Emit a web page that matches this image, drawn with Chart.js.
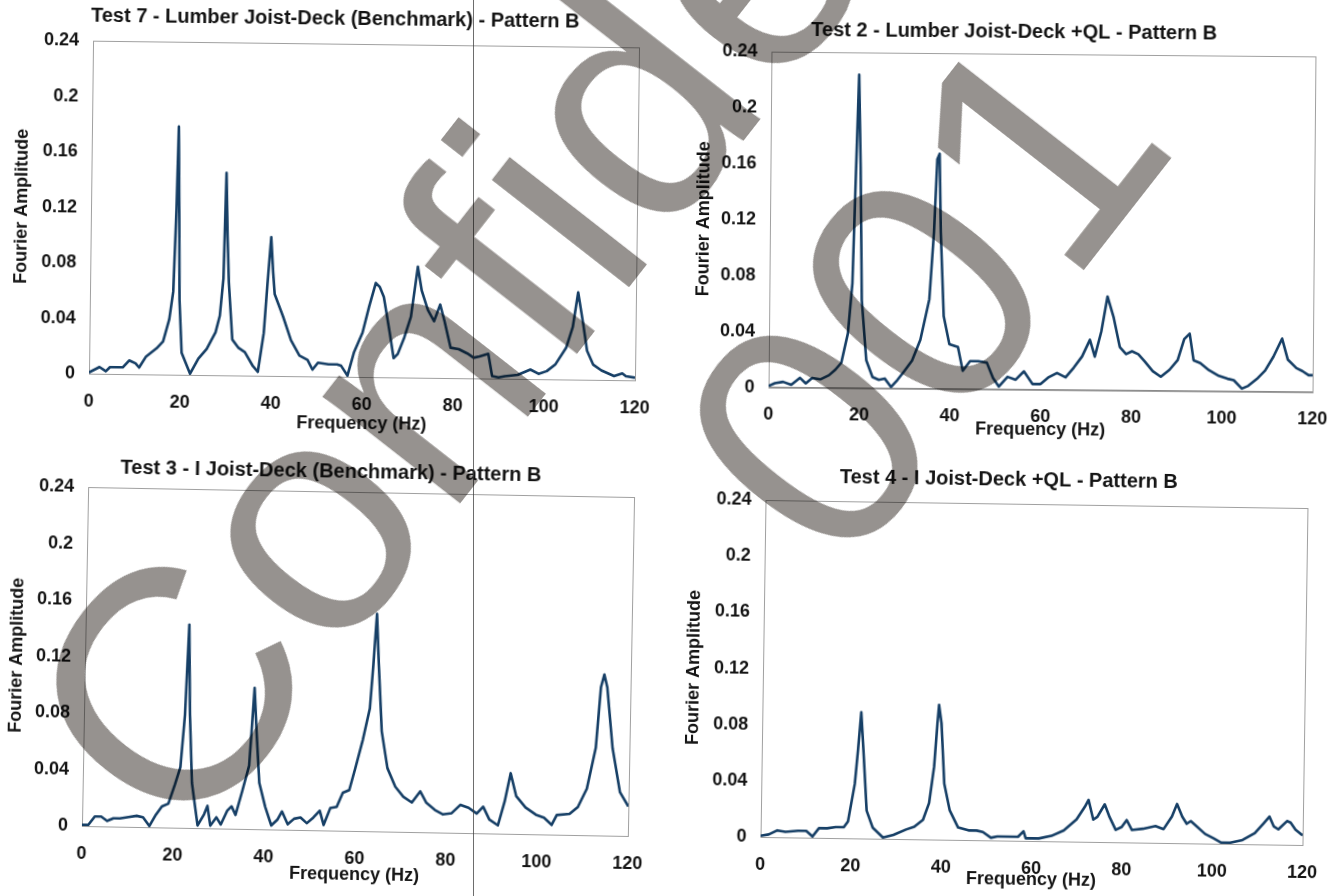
<!DOCTYPE html>
<html lang="en">
<head>
<meta charset="utf-8">
<title>Fourier Amplitude - Pattern B</title>
<script src="https://cdn.jsdelivr.net/npm/chart.js@4.4.1/dist/chart.umd.min.js"></script>
<style>
    html, body { margin: 0; padding: 0; background: #fff; overflow: hidden; }
    body { width: 1337px; height: 896px; position: relative; }
    .chart-box { position: absolute; }
    .chart-box canvas { display: block; }
    .fold-line { position: absolute; left: 473px; top: 0; width: 1px; height: 896px; background: rgba(60, 60, 60, 0.75); }
    .watermark {
        position: absolute;
        font: 330px/1 'Liberation Sans', Arial, sans-serif;
        color: #96928f; white-space: pre;
        mix-blend-mode: multiply; pointer-events: none;
    }
    .wm-line1 { left: 633px; top: 97px; transform: translate(-50%, -50%) rotate(-52deg); }
    .wm-line2 { left: 922px; top: 292px; transform: translate(-50%, -50%) rotate(-52deg); }
</style>
</head>
<body>
<div class="chart-box" id="box7"><canvas id="chart7"></canvas></div>
<div class="chart-box" id="box2"><canvas id="chart2"></canvas></div>
<div class="chart-box" id="box3"><canvas id="chart3"></canvas></div>
<div class="chart-box" id="box4"><canvas id="chart4"></canvas></div>
<div class="fold-line"></div>
<div class="watermark wm-line1">Confidential</div>
<div class="watermark wm-line2">001</div>

<script>
// 축 눈금 라벨
const xTickLabels = ['0', '20', '40', '60', '80', '100', '120'];
const yTickLabels = ['0', '0.04', '0.08', '0.12', '0.16', '0.2', '0.24'];

const chartTitles = [
    'Test 7 - Lumber Joist-Deck (Benchmark) - Pattern B',
    'Test 2 - Lumber Joist-Deck +QL - Pattern B',
    'Test 3 - I Joist-Deck (Benchmark) - Pattern B',
    'Test 4 - I Joist-Deck +QL - Pattern B'
];

// Test 7 - 주파수(Hz) / 푸리에 진폭
const test7Freq = [0, 2.3, 3.7, 4.6, 7.4, 8.8, 10.2, 11, 12.5, 14.8, 16.2, 17.5, 18.3, 18.8, 19.1, 19.4, 19.7, 20.3, 22.2, 24,
    25.8, 27.7, 28.6, 29.3, 29.7, 30.1, 30.5, 31.4, 32.8, 34.2, 36, 37.1, 38.3, 39, 39.7, 40.2, 40.6, 42.5, 44.3, 46.2,
    48, 49.1, 50.3, 52.6, 54.5, 55.4, 56.8, 58.2, 60, 61.4, 62.8, 63.7, 64.6, 66, 66.9, 67.8, 69.2, 70.6, 72, 72.9,
    74.3, 75.7, 77, 78, 79.4, 81.2, 83.1, 84.5, 85.8, 87.7, 88.6, 90, 91.4, 94.2, 97, 98.8, 100.6, 102.5, 104.8, 106.2,
    107.3, 108.5, 109.4, 110.8, 112.6, 115.4, 117.2, 118, 120];
const test7Amp = [0.001, 0.005, 0.002, 0.005, 0.005, 0.01, 0.008, 0.005, 0.013, 0.019, 0.024, 0.04, 0.06, 0.12, 0.179, 0.12, 0.054, 0.016, 0.001, 0.012,
    0.019, 0.031, 0.043, 0.07, 0.146, 0.1, 0.067, 0.026, 0.02, 0.017, 0.007, 0.003, 0.031, 0.067, 0.1, 0.075, 0.059, 0.043, 0.026, 0.015,
    0.012, 0.005, 0.01, 0.009, 0.009, 0.008, 0.001, 0.018, 0.032, 0.051, 0.068, 0.065, 0.058, 0.032, 0.014, 0.017, 0.029, 0.044, 0.08, 0.063,
    0.049, 0.041, 0.053, 0.041, 0.022, 0.021, 0.018, 0.015, 0.016, 0.018, 0.002, 0.001, 0.002, 0.003, 0.007, 0.004, 0.006, 0.011, 0.023, 0.038,
    0.063, 0.04, 0.021, 0.011, 0.007, 0.003, 0.005, 0.003, 0.002];

// Test 2
const test2Freq = [0, 1.4, 3.2, 5, 6.9, 8.2, 9.6, 11.4, 13.3, 14.7, 16, 17.4, 18.3, 18.9, 19.4, 19.9, 20.4, 21.5, 22.9, 24.3,
    25.6, 27, 28.4, 29.8, 31.6, 33.4, 35.3, 36.2, 36.8, 37.3, 37.7, 38.5, 39.8, 41.7, 42.8, 44.4, 46.2, 48.1, 49.5, 50.8,
    52.7, 54.5, 56.3, 58.2, 60, 61.8, 63.6, 65.5, 67.3, 69.1, 70.8, 71.9, 73.3, 74.6, 76, 77.4, 78.8, 80.1, 81.5, 82.9,
    84.7, 86.5, 88.4, 90.2, 91.6, 92.8, 93.7, 95.2, 97.1, 99.3, 101.2, 102.6, 104.4, 105.8, 107.7, 109.5, 111.3, 113.2, 114.5, 116.4,
    117.7, 119.1, 120];
const test2Amp = [0.001, 0.003, 0.004, 0.002, 0.007, 0.003, 0.007, 0.006, 0.009, 0.013, 0.018, 0.039, 0.075, 0.158, 0.224, 0.158, 0.063, 0.02, 0.008, 0.006,
    0.007, 0.001, 0.006, 0.012, 0.02, 0.035, 0.064, 0.112, 0.164, 0.168, 0.112, 0.052, 0.032, 0.03, 0.013, 0.02, 0.02, 0.019, 0.008, 0.002,
    0.009, 0.007, 0.013, 0.004, 0.004, 0.009, 0.012, 0.009, 0.016, 0.024, 0.036, 0.024, 0.042, 0.067, 0.052, 0.031, 0.026, 0.028, 0.026, 0.021,
    0.014, 0.01, 0.015, 0.022, 0.037, 0.041, 0.022, 0.02, 0.015, 0.011, 0.009, 0.008, 0.002, 0.004, 0.009, 0.015, 0.025, 0.038, 0.023, 0.017,
    0.015, 0.012, 0.012];

// Test 3
const test3Freq = [0, 1.4, 2.8, 4.2, 5.5, 6.9, 8.3, 10.2, 12, 13.4, 14.8, 16.2, 17.5, 18.9, 20.3, 21.4, 22.2, 22.8, 23.3, 24,
    25.4, 26.8, 27.5, 28.2, 29.5, 30.5, 31.9, 32.8, 33.7, 35.1, 36.5, 36.9, 37.4, 38, 38.8, 40.2, 41.6, 42.9, 43.9, 45.2,
    46.6, 48, 49.4, 50.8, 52.2, 53.1, 54.5, 55.9, 57.2, 58.6, 59.8, 61.4, 62.8, 63.4, 64, 64.6, 65.5, 66.9, 68.7, 70.5,
    72.4, 74.2, 75.6, 77.5, 79.3, 81.2, 83.1, 84.9, 86.7, 88.1, 89.5, 91.4, 92.8, 94, 95.3, 97.4, 99.7, 101.5, 103.2, 104.3,
    107.1, 108.9, 110.8, 112.6, 113.5, 114.2, 114.9, 116.3, 118.1, 120];
const test3Amp = [0.001, 0.001, 0.007, 0.007, 0.004, 0.006, 0.006, 0.007, 0.008, 0.007, 0.001, 0.009, 0.015, 0.017, 0.031, 0.043, 0.08, 0.144, 0.08, 0.032,
    0.002, 0.01, 0.016, 0.002, 0.008, 0.003, 0.013, 0.016, 0.01, 0.027, 0.045, 0.069, 0.1, 0.069, 0.033, 0.016, 0.003, 0.007, 0.013, 0.004,
    0.008, 0.009, 0.005, 0.009, 0.014, 0.004, 0.016, 0.017, 0.027, 0.029, 0.044, 0.065, 0.087, 0.118, 0.154, 0.118, 0.071, 0.045, 0.032, 0.025,
    0.021, 0.029, 0.021, 0.016, 0.013, 0.014, 0.02, 0.018, 0.014, 0.019, 0.01, 0.006, 0.023, 0.043, 0.027, 0.019, 0.014, 0.012, 0.007, 0.014,
    0.015, 0.02, 0.033, 0.062, 0.105, 0.114, 0.105, 0.062, 0.031, 0.021];

// Test 4
const test4Freq = [0, 1.8, 3.7, 5.5, 8.3, 10.1, 11.5, 12.9, 14.7, 16.6, 18.4, 19.3, 20.7, 21.3, 21.9, 22.5, 23.4, 24.8, 27.1, 29.4,
    32.2, 34, 35.9, 37.2, 38.2, 38.8, 39.1, 39.7, 40.5, 41.8, 43.7, 46, 47.8, 49.2, 51, 52.4, 55.2, 57, 58.2, 58.7,
    61.6, 64.4, 67.1, 69.9, 71.7, 72.5, 73.6, 74.5, 76.1, 77.2, 78.6, 79.9, 81, 82.2, 84.6, 87.4, 89.2, 91, 92.1, 93.3,
    94.3, 95.2, 96.6, 98.4, 100.3, 102, 104, 106.7, 109.4, 111.3, 112.6, 113.6, 114.6, 116.5, 117.3, 118.4, 120];
const test4Amp = [0.001, 0.002, 0.005, 0.004, 0.005, 0.005, 0.001, 0.007, 0.007, 0.008, 0.008, 0.012, 0.039, 0.063, 0.09, 0.063, 0.02, 0.008, 0.001, 0.003,
    0.007, 0.009, 0.014, 0.026, 0.052, 0.083, 0.096, 0.083, 0.04, 0.021, 0.009, 0.007, 0.007, 0.006, 0.002, 0.003, 0.003, 0.003, 0.007, 0.002,
    0.002, 0.004, 0.008, 0.016, 0.025, 0.03, 0.016, 0.018, 0.027, 0.018, 0.009, 0.011, 0.016, 0.009, 0.01, 0.012, 0.01, 0.019, 0.028, 0.019,
    0.014, 0.016, 0.012, 0.007, 0.004, 0.001, 0.001, 0.003, 0.008, 0.015, 0.02, 0.013, 0.011, 0.017, 0.016, 0.011, 0.007];

const FONT_FAMILY = "'Liberation Sans', Arial, sans-serif";
const TEXT_COLOR = '#141414';
const LINE_COLOR = '#163f66';
const AXIS_COLOR = '#8a8a8a';

/**
 * 각 차트의 플롯 영역(페이지 좌표)과 제목 위치
 * area: 플롯 영역, titleX/titleY: 차트 제목 중심, yTitleX: 세로축 제목 중심, xTitleGap: 축선~가로축 제목 중심 거리
 */
const chartLayouts = [
    { boxId: 'box7', canvasId: 'chart7', area: { left: 91, top: 44, right: 637, bottom: 377 }, titleX: 333, titleY: 19, yTitleX: 22, xTitleGap: 47, rotate: 0.7 },
    { boxId: 'box2', canvasId: 'chart2', area: { left: 770, top: 54, right: 1314, bottom: 390 }, titleX: 1012.5, titleY: 32, yTitleX: 704, xTitleGap: 40.5, rotate: 0.5 },
    { boxId: 'box3', canvasId: 'chart3', area: { left: 85, top: 492, right: 631, bottom: 831 }, titleX: 327.5, titleY: 472, yTitleX: 17, xTitleGap: 44, rotate: 1.05 },
    { boxId: 'box4', canvasId: 'chart4', area: { left: 763, top: 504, right: 1305, bottom: 841 }, titleX: 1006, titleY: 480, yTitleX: 694, xTitleGap: 39, rotate: 0.85 }
];

/**
 * 플롯 영역 테두리(위/오른쪽 포함)를 그리는 플러그인
 */
const plotFrame = {
    id: 'plotFrame',
    beforeDatasetsDraw(chart) {
        const { ctx, chartArea: a } = chart;
        ctx.save();
        ctx.strokeStyle = '#a0a0a0';
        ctx.lineWidth = 1;
        ctx.strokeRect(Math.round(a.left) + 0.5, Math.round(a.top) + 0.5, Math.round(a.right - a.left), Math.round(a.bottom - a.top));
        ctx.restore();
    }
};

/**
 * 스펙트럼 차트 하나를 그립니다.
 * @param {object} layout - 위치 정보
 * @param {string} title - 차트 제목
 * @param {number[]} freq - 주파수 배열
 * @param {number[]} amp - 진폭 배열
 */
function renderSpectrumChart(layout, title, freq, amp) {
    const a = layout.area;
    const left = layout.yTitleX - 8;
    const width = 2 * (layout.titleX - left);
    const top = layout.titleY - 12;
    const xAxisHeight = layout.xTitleGap + 15.8;
    const height = a.bottom + xAxisHeight - top;
    const rightGap = left + width - a.right;

    const box = document.getElementById(layout.boxId);
    box.style.left = left + 'px';
    box.style.top = top + 'px';
    box.style.transformOrigin = `${(a.left + a.right) / 2 - left}px ${(a.top + a.bottom) / 2 - top}px`;
    box.style.transform = `rotate(${layout.rotate}deg)`;

    const canvas = document.getElementById(layout.canvasId);
    canvas.width = Math.round(width);
    canvas.height = Math.round(height);
    canvas.style.width = Math.round(width) + 'px';
    canvas.style.height = Math.round(height) + 'px';

    const points = freq.map((f, i) => ({ x: f, y: amp[i] }));
    const tickFont = { family: FONT_FAMILY, size: 18, weight: 'bold' };
    const labelFont = { family: FONT_FAMILY, size: 18, weight: 'bold', lineHeight: 1.2 };

    return new Chart(canvas, {
        type: 'line',
        data: {
            datasets: [{
                data: points,
                borderColor: LINE_COLOR,
                borderWidth: 2.6,
                borderJoinStyle: 'round',
                pointRadius: 0,
                tension: 0,
                fill: false
            }]
        },
        options: {
            responsive: false,
            animation: false,
            events: [],
            layout: { padding: 0 },
            plugins: {
                legend: { display: false },
                tooltip: { enabled: false },
                title: {
                    display: true,
                    text: title,
                    color: TEXT_COLOR,
                    font: { family: FONT_FAMILY, size: 20, weight: 'bold', lineHeight: 1.2 },
                    padding: { top: 0, bottom: a.top - top - 24 }
                }
            },
            scales: {
                x: {
                    type: 'linear',
                    min: 0,
                    max: 120,
                    // 눈금선은 그리지 않고 tickLength 만큼 라벨을 띄웁니다
                    grid: { display: false, drawTicks: true, tickLength: 17 },
                    border: { display: true, color: AXIS_COLOR, width: 1 },
                    ticks: {
                        stepSize: 20,
                        padding: 0,
                        autoSkip: false,
                        maxRotation: 0,
                        color: TEXT_COLOR,
                        font: tickFont,
                        callback: (value, index) => xTickLabels[index]
                    },
                    title: { display: true, text: 'Frequency (Hz)', color: TEXT_COLOR, font: labelFont, padding: { top: 0, bottom: 5 } },
                    afterFit: (scale) => { scale.height = xAxisHeight; }
                },
                y: {
                    type: 'linear',
                    min: 0,
                    max: 0.24,
                    grid: { display: false, drawTicks: true, tickLength: 14 },
                    border: { display: true, color: AXIS_COLOR, width: 1 },
                    ticks: {
                        stepSize: 0.04,
                        padding: 0,
                        color: TEXT_COLOR,
                        font: tickFont,
                        callback: (value, index) => yTickLabels[index]
                    },
                    title: {
                        display: true,
                        text: 'Fourier Amplitude',
                        color: TEXT_COLOR,
                        font: { family: FONT_FAMILY, size: 18, weight: 'bold', lineHeight: 0.9 },
                        padding: 0
                    },
                    afterFit: (scale) => { scale.width = a.left - left; }
                },
                // 제목을 가운데 맞추기 위한 오른쪽 여백 축
                yPad: {
                    type: 'linear',
                    position: 'right',
                    grid: { display: false, drawTicks: false },
                    border: { display: false },
                    ticks: { display: false },
                    afterFit: (scale) => { scale.width = rightGap; }
                }
            }
        },
        plugins: [plotFrame]
    });
}

function setupCharts() {
    const seriesFreq = [test7Freq, test2Freq, test3Freq, test4Freq];
    const seriesAmp = [test7Amp, test2Amp, test3Amp, test4Amp];
    chartLayouts.forEach((layout, i) => {
        renderSpectrumChart(layout, chartTitles[i], seriesFreq[i], seriesAmp[i]);
    });
}

setupCharts();
</script>
</body>
</html>
